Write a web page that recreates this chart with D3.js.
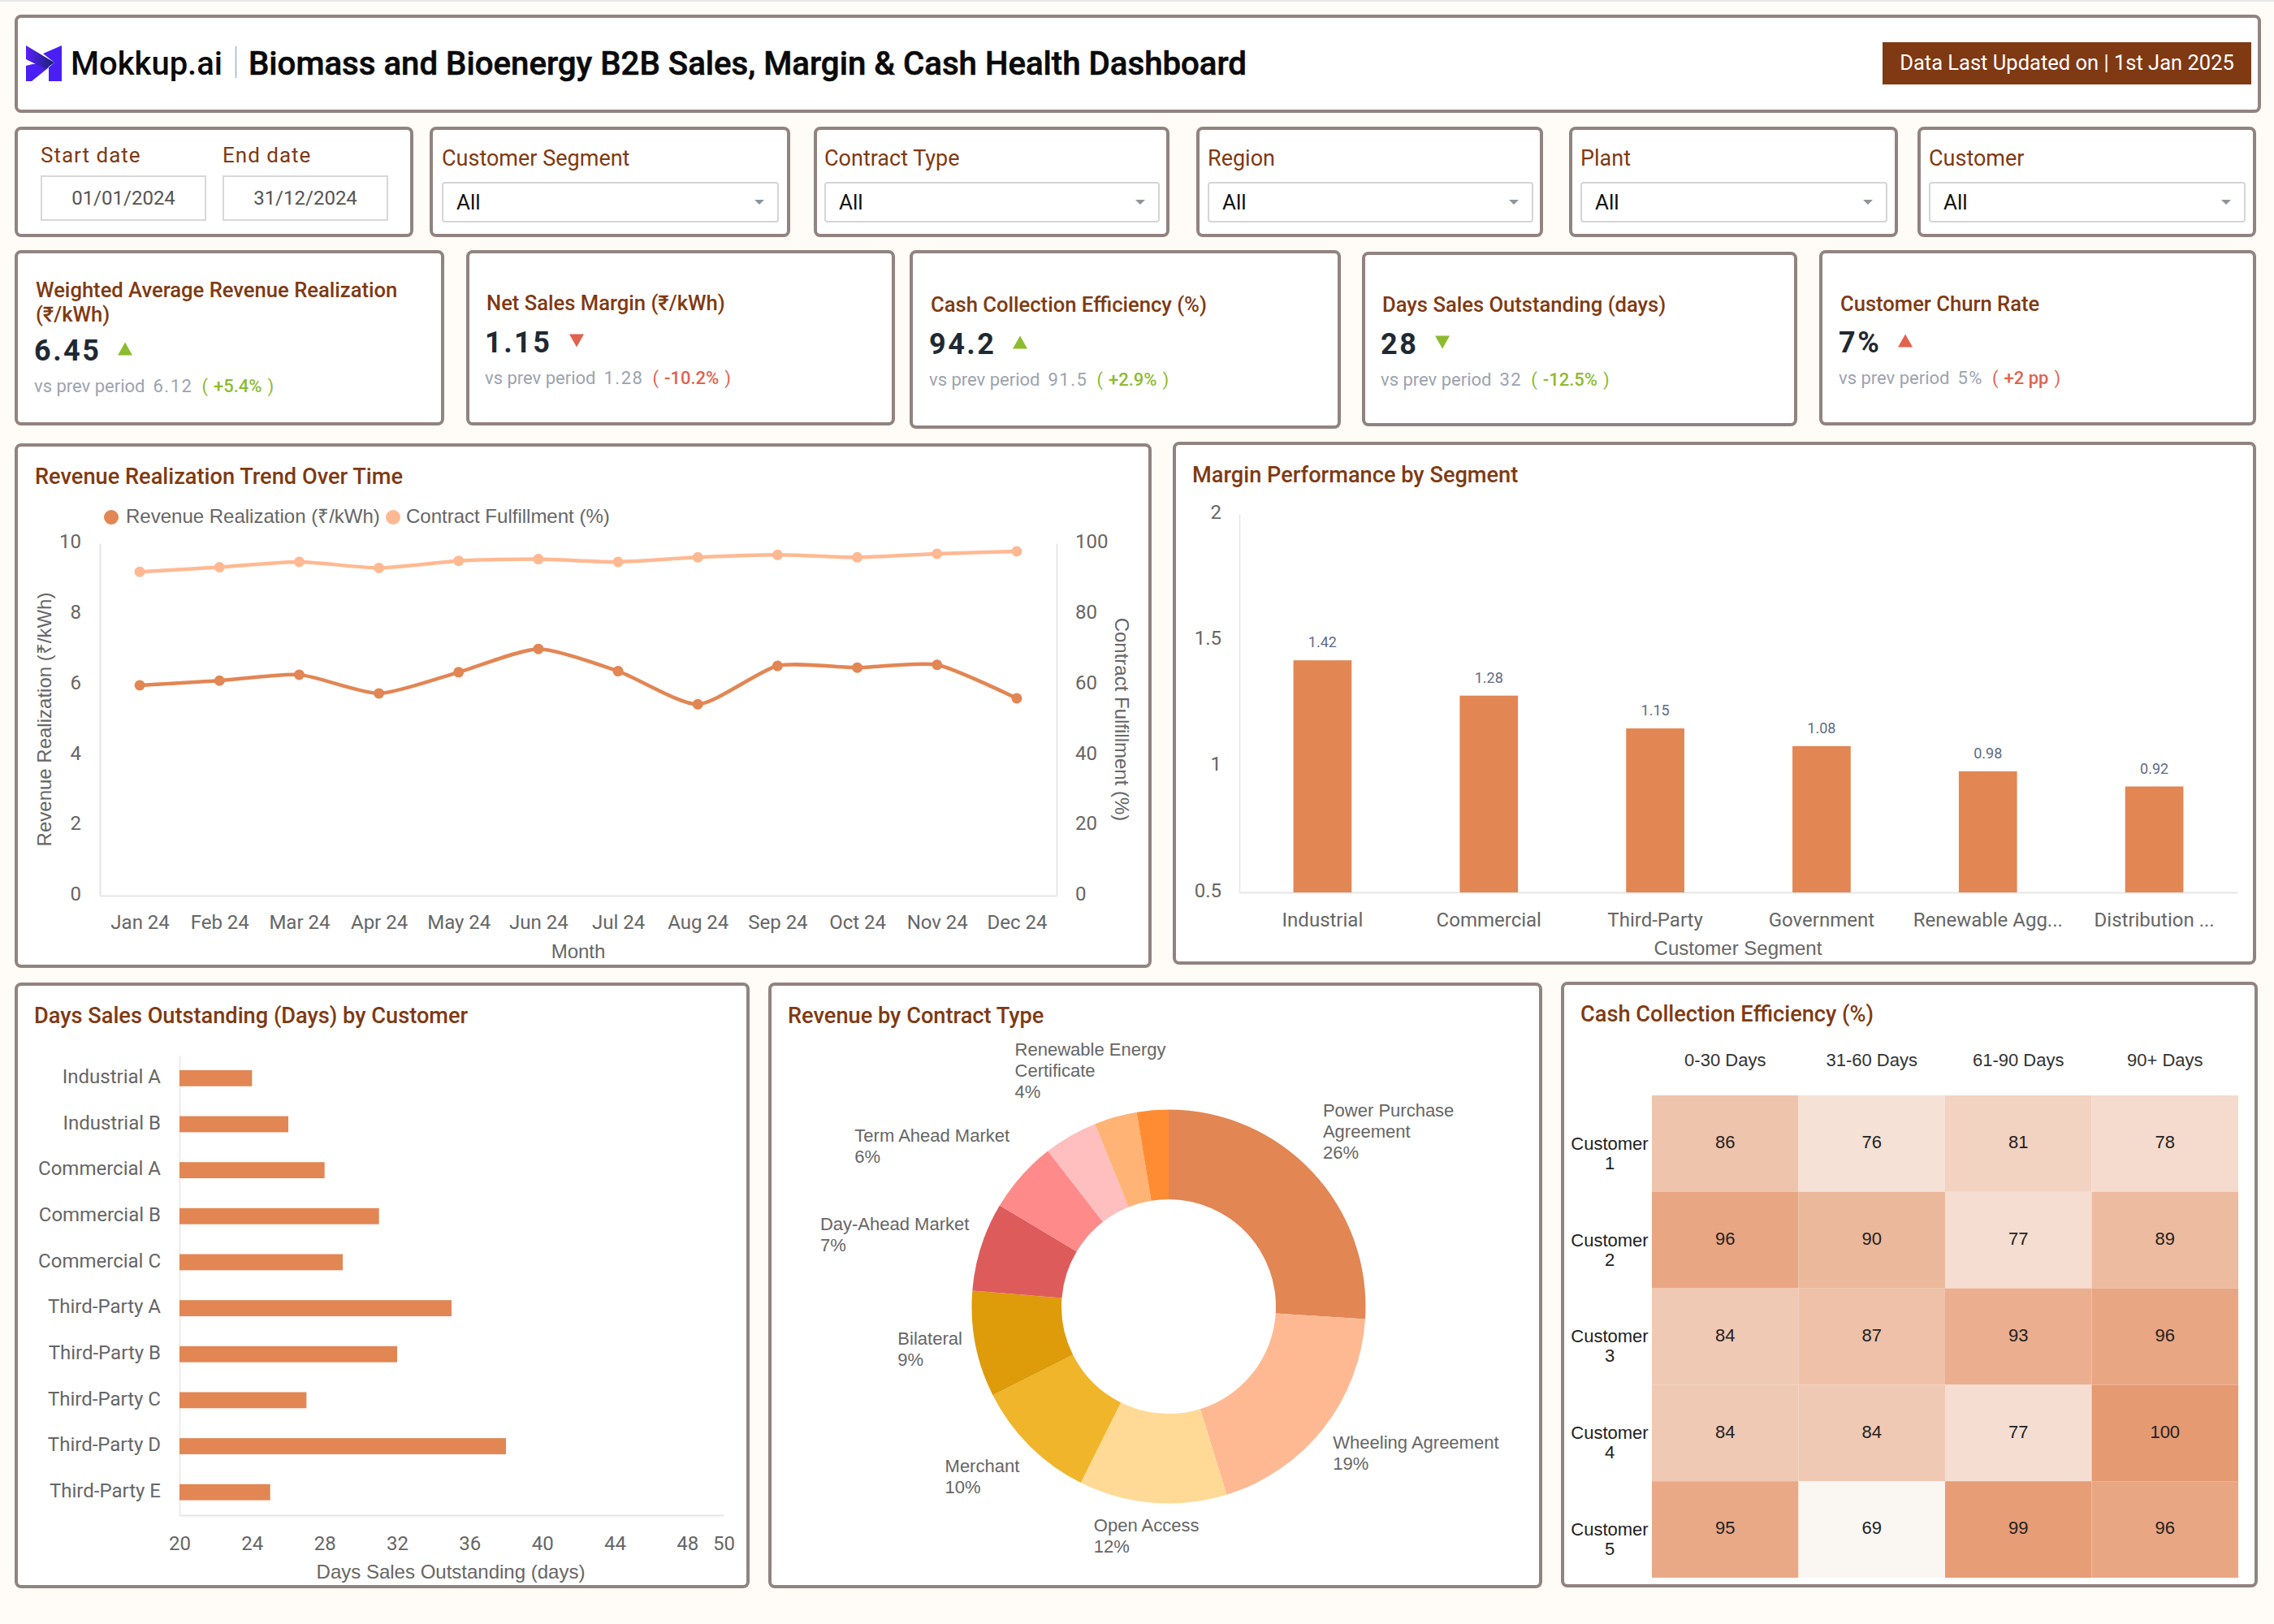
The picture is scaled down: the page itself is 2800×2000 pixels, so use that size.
<!DOCTYPE html>
<html>
<head>
<meta charset="utf-8">
<title>Biomass and Bioenergy B2B Sales, Margin & Cash Health Dashboard</title>
<script src="https://d3js.org/d3.v7.min.js"></script>
<style>
  html, body { margin: 0; padding: 0; background: #fffcf7; }
  svg { display: block; }
  text { font-family: Roboto, "Noto Sans", sans-serif; }
  .arial { font-family: "Liberation Sans", Arial, sans-serif; }
</style>
</head>
<body>
<div id="my_dataviz"></div>

<script>
// ---------- data ----------
var months = ["Jan 24","Feb 24","Mar 24","Apr 24","May 24","Jun 24","Jul 24","Aug 24","Sep 24","Oct 24","Nov 24","Dec 24"];
var revenueRealization = [5.97,6.1,6.27,5.74,6.34,7.0,6.37,5.43,6.52,6.47,6.55,5.6];
var contractFulfillment = [91.9,93.2,94.7,93,95,95.5,94.7,96,96.7,96,97,97.7];

var segments = ["Industrial","Commercial","Third-Party","Government","Renewable Agg...","Distribution ..."];
var segmentMargin = [1.42,1.28,1.15,1.08,0.98,0.92];

var customers = ["Industrial A","Industrial B","Commercial A","Commercial B","Commercial C","Third-Party A","Third-Party B","Third-Party C","Third-Party D","Third-Party E"];
var customerDso = [24,26,28,31,29,35,32,27,38,25];
var dsoTicks = [20,24,28,32,36,40,44,48,50];

// two thin slices have no label in the picture, their shares are estimates
var contractNames = [["Power Purchase","Agreement"],["Wheeling Agreement"],["Open Access"],["Merchant"],["Bilateral"],["Day-Ahead Market"],["Term Ahead Market"],[],["Renewable Energy","Certificate"],[]];
var contractShare = [26,19.2,12.1,10.2,8.7,7.3,5.9,4.4,3.5,2.6];
var contractColors = ["#e28654","#ffb992","#ffda96","#f0b52b","#de9b0a","#de5b5b","#ff8a8a","#ffbfbf","#ffb375","#ff8c33"];

var agingBuckets = ["0-30 Days","31-60 Days","61-90 Days","90+ Days"];
var agingCustomers = ["1","2","3","4","5"];
var agingValues = [
  [86,76,81,78],
  [96,90,77,89],
  [84,87,93,96],
  [84,84,77,100],
  [95,69,99,96]
];

var kpiTitles = [["Weighted Average Revenue Realization","(₹/kWh)"],["Net Sales Margin (₹/kWh)"],["Cash Collection Efficiency (%)"],["Days Sales Outstanding (days)"],["Customer Churn Rate"]];
var kpiValues = ["6.45","1.15","94.2","28","7%"];
var kpiPrev = ["6.12","1.28","91.5","32","5%"];
var kpiDelta = ["+5.4%","-10.2%","+2.9%","-12.5%","+2 pp"];
var kpiUp = [true,false,true,false,true];
var kpiGood = [true,false,true,true,false];

var filterNames = ["Customer Segment","Contract Type","Region","Plant","Customer"];

// ---------- colours ----------
var brown = "#7f3a12", borderCol = "#918380", barCol = "#e28654";
var axisText = "#666666", gridLine = "#e6e6e6";
var goodCol = "#8dbb2f", badCol = "#e0634f";

var svg = d3.select("#my_dataviz").append("svg")
    .attr("width", 2800)
    .attr("height", 2000);

svg.append("rect").attr("width", 2800).attr("height", 2000).attr("fill", "#fffcf7");
svg.append("rect").attr("width", 2800).attr("height", 2).attr("fill", "#e8e8e8");

// panel with the grey-brown border
function panel(x0, y0, x1, y1) {
  svg.append("rect")
    .attr("x", x0 + 2).attr("y", y0 + 2)
    .attr("width", x1 - x0 - 4).attr("height", y1 - y0 - 4)
    .attr("rx", 6)
    .attr("fill", "#fff")
    .attr("stroke", borderCol)
    .attr("stroke-width", 4);
}

function label(x, y, s, size, col, weight, anchor, cls) {
  return svg.append("text")
    .attr("class", cls || null)
    .attr("x", x).attr("y", y).attr("dy", "0.35em")
    .attr("font-size", size)
    .attr("font-weight", weight || 400)
    .attr("fill", col)
    .attr("text-anchor", anchor || "start")
    .text(s);
}

// ---------- header ----------
panel(18, 18, 2784, 139);

var grad = svg.append("defs").append("linearGradient").attr("id", "logoGrad");
grad.append("stop").attr("offset", "0%").attr("stop-color", "#5a1ffb");
grad.append("stop").attr("offset", "100%").attr("stop-color", "#16246e");

var logo = svg.append("g").attr("transform", "translate(32,56)");
logo.append("polygon").attr("points", "44,0 44,44 28,44 28,27 35,21 21,10").attr("fill", "#4a1ff5");
logo.append("polygon").attr("points", "0,25 0,44 7,44 28,27 24,22 8,23").attr("fill", "#4a1ff5");
logo.append("polygon").attr("points", "0,0 35,21 24,29 0,17").attr("fill", "url(#logoGrad)");

label(87, 78, "Mokkup.ai", 40, "#0a0a0a", 500);
svg.append("line").attr("x1", 290.5).attr("x2", 290.5).attr("y1", 57).attr("y2", 96).attr("stroke", "#9db4c0").attr("stroke-width", 1.5);
label(306, 78, "Biomass and Bioenergy B2B Sales, Margin & Cash Health Dashboard", 40.2, "#0a0a0a", 500)
  .attr("stroke", "#0a0a0a").attr("stroke-width", 0.6);

svg.append("rect").attr("x", 2318).attr("y", 52).attr("width", 454).attr("height", 52).attr("fill", "#7f3913");
label(2545, 77, "Data Last Updated on | 1st Jan 2025", 25.5, "#fff", 400, "middle");

// ---------- date + dropdown filters ----------
panel(18, 156, 509, 292);
label(50, 191, "Start date", 26, brown).attr("letter-spacing", 1);
label(274, 191, "End date", 26, brown).attr("letter-spacing", 1);
[[50, "01/01/2024"], [274, "31/12/2024"]].forEach(function(d) {
  svg.append("rect").attr("x", d[0] + 1).attr("y", 217).attr("width", 202).attr("height", 54)
    .attr("fill", "#fff").attr("stroke", "#d8d8d8").attr("stroke-width", 2);
  label(d[0] + 102, 244, d[1], 24, "#555", 400, "middle");
});

var filterPanels = [[529,973],[1002,1440],[1473,1900],[1932,2337],[2361,2778]];
var filterBoxes = [[544,959],[1015,1428],[1487,1888],[1946,2324],[2375,2765]];
filterNames.forEach(function(name, i) {
  var b = filterBoxes[i];
  panel(filterPanels[i][0], 156, filterPanels[i][1], 292);
  label(b[0], 195, name, 27, brown);
  svg.append("rect").attr("x", b[0] + 1).attr("y", 225).attr("width", b[1] - b[0] - 2).attr("height", 48).attr("rx", 3)
    .attr("fill", "#fff").attr("stroke", "#d5d5d5").attr("stroke-width", 2);
  label(b[0] + 18, 249, "All", 26, "#111");
  var ax = b[1] - 24;
  svg.append("path").attr("d", "M" + (ax - 6) + ",246 L" + (ax + 6) + ",246 L" + ax + ",252 Z").attr("fill", "#8e949c");
});

// ---------- KPI cards ----------
var kpiPanels = [[18,308,547,524],[574,308,1102,524],[1120,308,1651,528],[1677,310,2213,525],[2240,308,2778,524]];
var kpiX = [42,597,1144,1700,2264];
var kpiTitleX = [44,599,1146,1702,2266];
var kpiTitleY = [357,373,375,375,374];
var kpiValueY = [431,421,423,423,421];
var kpiSubY = [475,465,467,467,465];
var triX = [154,710,1256,1776,2346];

kpiTitles.forEach(function(t, i) {
  var p = kpiPanels[i];
  panel(p[0], p[1], p[2], p[3]);
  t.forEach(function(line, j) {
    label(kpiTitleX[i], kpiTitleY[i] + j * 30.5, line, 25.6, brown, 500);
  });
  label(kpiX[i], kpiValueY[i], kpiValues[i], 36, "#1f2933", 700).attr("letter-spacing", 2.5);

  var col = kpiGood[i] ? goodCol : badCol;
  var tx = triX[i], ty = kpiValueY[i] - 1.5;
  var tri = kpiUp[i] ? [[tx - 9, ty + 8], [tx + 9, ty + 8], [tx, ty - 8]] : [[tx - 9, ty - 8], [tx + 9, ty - 8], [tx, ty + 8]];
  svg.append("polygon").attr("points", tri.join(" ")).attr("fill", col);

  var sub = label(kpiX[i], kpiSubY[i], "", 22, "#9ca3af");
  sub.append("tspan").text("vs prev period");
  sub.append("tspan").attr("dx", 10).attr("letter-spacing", 1.5).text(kpiPrev[i]);
  sub.append("tspan").attr("dx", 11).attr("fill", col).text("(");
  sub.append("tspan").attr("dx", 7).attr("fill", col).attr("font-weight", 500).text(kpiDelta[i]);
  sub.append("tspan").attr("dx", 7).attr("fill", col).text(")");
});

// ---------- revenue line chart ----------
panel(18, 546, 1418, 1192);
label(43, 586, "Revenue Realization Trend Over Time", 27.2, brown, 500);

var lineL = 123, lineR = 1301, lineT = 669, lineB = 1103;
var xMonth = d3.scalePoint().domain(months).range([lineL, lineR]).padding(0.5);
var yRev = d3.scaleLinear().domain([0, 10]).range([lineB, lineT]);
var yPct = d3.scaleLinear().domain([0, 100]).range([lineB, lineT]);

function tidyAxis(g) {
  g.selectAll(".tick line").remove();
  g.selectAll("text").attr("fill", axisText).attr("font-size", 24).attr("font-family", "Roboto");
  g.select(".domain").attr("stroke", gridLine).attr("stroke-width", 2);
}

svg.append("g").attr("transform", "translate(" + lineL + ",0)")
  .call(d3.axisLeft(yRev).tickValues([0,2,4,6,8,10]).tickSize(0).tickSizeOuter(0).tickPadding(23))
  .call(tidyAxis)
  .call(function(g) { g.selectAll("text").attr("dy", "0.24em"); });
svg.append("g").attr("transform", "translate(" + lineR + ",0)")
  .call(d3.axisRight(yPct).tickValues([0,20,40,60,80,100]).tickSize(0).tickSizeOuter(0).tickPadding(23))
  .call(tidyAxis)
  .call(function(g) { g.selectAll("text").attr("dy", "0.24em"); });
svg.append("g").attr("transform", "translate(0," + lineB + ")")
  .call(d3.axisBottom(xMonth).tickSize(0).tickSizeOuter(0).tickPadding(24))
  .call(tidyAxis);

var lineRev = d3.line().x(function(d, i) { return xMonth(months[i]); }).y(function(d) { return yRev(d); }).curve(d3.curveCardinal.tension(0.35));
var linePct = d3.line().x(function(d, i) { return xMonth(months[i]); }).y(function(d) { return yPct(d); }).curve(d3.curveCardinal.tension(0.35));

svg.append("path").datum(contractFulfillment).attr("d", linePct).attr("fill", "none").attr("stroke", "#ffb992").attr("stroke-width", 4.5);
svg.append("path").datum(revenueRealization).attr("d", lineRev).attr("fill", "none").attr("stroke", barCol).attr("stroke-width", 4.5);

svg.selectAll(".ptPct").data(contractFulfillment).enter().append("circle")
  .attr("cx", function(d, i) { return xMonth(months[i]); })
  .attr("cy", function(d) { return yPct(d); })
  .attr("r", 6.5).attr("fill", "#ffb992");
svg.selectAll(".ptRev").data(revenueRealization).enter().append("circle")
  .attr("cx", function(d, i) { return xMonth(months[i]); })
  .attr("cy", function(d) { return yRev(d); })
  .attr("r", 6.5).attr("fill", barCol);

svg.append("circle").attr("cx", 137).attr("cy", 637).attr("r", 9).attr("fill", barCol);
label(155, 636, "Revenue Realization (₹/kWh)", 24, axisText, 400, "start", "arial");
svg.append("circle").attr("cx", 484).attr("cy", 637).attr("r", 9).attr("fill", "#ffb992");
label(500, 636, "Contract Fulfillment (%)", 24, axisText, 400, "start", "arial");

label(712, 1172, "Month", 24, axisText, 400, "middle", "arial");
label(0, 0, "Revenue Realization (₹/kWh)", 24, axisText, 400, "middle", "arial")
  .attr("transform", "translate(55,886) rotate(-90)");
label(0, 0, "Contract Fulfillment (%)", 24, axisText, 400, "middle", "arial")
  .attr("transform", "translate(1381,886) rotate(90)");

// ---------- margin bars ----------
panel(1444, 544, 2778, 1188);
label(1468, 584, "Margin Performance by Segment", 27.2, brown, 500);

var barL = 1526, barR = 2755, barT = 633, barB = 1099;
var xSeg = d3.scaleBand().domain(segments).range([barL, barR]).paddingInner(0.65).paddingOuter(0.325);
var ySeg = d3.scaleLinear().domain([0.5, 2]).range([barB, barT]);

svg.append("g").attr("transform", "translate(" + barL + ",0)")
  .call(d3.axisLeft(ySeg).tickValues([0.5,1,1.5,2]).tickFormat(d3.format("~g")).tickSize(0).tickSizeOuter(0).tickPadding(22))
  .call(tidyAxis)
  .call(function(g) { g.selectAll("text").attr("dy", "0.22em"); g.select(".domain").attr("stroke-width", 1.5); });
svg.append("g").attr("transform", "translate(0," + barB + ")")
  .call(d3.axisBottom(xSeg).tickSize(0).tickSizeOuter(0).tickPadding(25))
  .call(tidyAxis);

svg.selectAll(".segBar").data(segmentMargin).enter().append("rect")
  .attr("x", function(d, i) { return xSeg(segments[i]); })
  .attr("y", function(d) { return ySeg(d); })
  .attr("width", xSeg.bandwidth())
  .attr("height", function(d) { return barB - ySeg(d); })
  .attr("fill", barCol);

svg.selectAll(".segVal").data(segmentMargin).enter().append("text")
  .attr("x", function(d, i) { return xSeg(segments[i]) + xSeg.bandwidth() / 2; })
  .attr("y", function(d) { return ySeg(d) - 22; })
  .attr("dy", "0.35em")
  .attr("text-anchor", "middle")
  .attr("font-size", 18)
  .attr("fill", "#5f6b85")
  .text(function(d) { return d3.format(".2f")(d); });

label(2140, 1168, "Customer Segment", 24, axisText, 400, "middle", "arial");

// ---------- DSO horizontal bars ----------
panel(18, 1210, 923, 1956);
label(42, 1250, "Days Sales Outstanding (Days) by Customer", 27.2, brown, 500);

var dsoL = 221, dsoR = 891, dsoT = 1299.5, dsoB = 1866;
var xDso = d3.scaleLinear().domain([20, 50]).range([dsoL, dsoR]);
var yCust = d3.scaleBand().domain(customers).range([dsoT, dsoB]).paddingInner(0.65).paddingOuter(0.325);

svg.append("g").attr("transform", "translate(0," + dsoB + ")")
  .call(d3.axisBottom(xDso).tickValues(dsoTicks).tickSize(0).tickSizeOuter(0).tickPadding(26))
  .call(tidyAxis);
svg.append("g").attr("transform", "translate(" + dsoL + ",0)")
  .call(d3.axisLeft(yCust).tickSize(0).tickSizeOuter(0).tickPadding(23))
  .call(tidyAxis)
  .call(function(g) { g.selectAll("text").attr("dy", "0.26em"); g.select(".domain").attr("stroke-width", 1.5); });

svg.selectAll(".dsoBar").data(customerDso).enter().append("rect")
  .attr("x", dsoL)
  .attr("y", function(d, i) { return yCust(customers[i]); })
  .attr("width", function(d) { return xDso(d) - dsoL; })
  .attr("height", yCust.bandwidth())
  .attr("fill", barCol);

label(555, 1936, "Days Sales Outstanding (days)", 24, axisText, 400, "middle", "arial");

// ---------- contract donut ----------
panel(946, 1210, 1899, 1956);
label(970, 1250, "Revenue by Contract Type", 27.2, brown, 500);

var cx = 1439, cy = 1609, outerR = 242.5, innerR = 132, labelR = 259;
var pie = d3.pie().sort(null);
var arc = d3.arc().innerRadius(innerR).outerRadius(outerR);
var total = d3.sum(contractShare);
var donut = svg.append("g").attr("transform", "translate(" + cx + "," + cy + ")");

donut.selectAll("path").data(pie(contractShare)).enter().append("path")
  .attr("d", arc)
  .attr("fill", function(d, i) { return contractColors[i]; });

// label box hangs off the point just outside the slice, corner depends on the angle
var nudgeX = [1,-1,-3,-1,0,1,-2,0,-2,0];
var nudgeY = [0,-4,-2,0,-5,2,0,0,-2,0];
pie(contractShare).forEach(function(d, i) {
  if (!contractNames[i].length) return;
  var mid = (d.startAngle + d.endAngle) / 2;
  var s = Math.sin(mid), c = Math.cos(mid);
  var lines = contractNames[i].concat([Math.round(d.value / total * 100) + "%"]);
  var t = svg.append("text").attr("class", "arial").attr("font-size", 22).attr("fill", "#666");
  lines.forEach(function(line) {
    t.append("tspan").text(line);
  });
  var spans = t.selectAll("tspan");
  var w = d3.max(spans.nodes(), function(n) { return n.getComputedTextLength(); });
  var h = lines.length * 26;
  var fx = 0.5 - 0.5 * Math.sign(s) * Math.pow(Math.min(1, Math.abs(s) / 0.7), 1.4);
  var fy = Math.max(0, Math.min(1, 0.5 + c * 0.75));
  var left = cx + labelR * s - fx * w + nudgeX[i];
  var top = cy - labelR * c - fy * h + nudgeY[i];
  spans.attr("x", left).attr("y", function(n, j) { return top + 13 + j * 26; }).attr("dy", "0.35em");
});

// ---------- aging heatmap ----------
panel(1922, 1209, 2780, 1955);
label(1946, 1248, "Cash Collection Efficiency (%)", 27.2, brown, 500);

var heatL = 2034, heatR = 2756, heatT = 1349, heatB = 1943;
var xBucket = d3.scaleBand().domain(agingBuckets).range([heatL, heatR]);
var yRow = d3.scaleBand().domain(agingCustomers).range([heatT, heatB]);
var heatColor = d3.scaleLinear().domain([69, 100]).range(["#faf6f2", "#e69a72"]);

agingValues.forEach(function(row, r) {
  row.forEach(function(v, c) {
    svg.append("rect")
      .attr("x", xBucket(agingBuckets[c])).attr("y", yRow(agingCustomers[r]))
      .attr("width", xBucket.bandwidth()).attr("height", yRow.bandwidth())
      .attr("fill", heatColor(v));
    label(xBucket(agingBuckets[c]) + xBucket.bandwidth() / 2, yRow(agingCustomers[r]) + yRow.bandwidth() / 2 - 2, v, 22, "#222", 400, "middle", "arial");
  });
  label(1982, yRow(agingCustomers[r]) + 59, "Customer", 22, "#222", 400, "middle", "arial");
  label(1982, yRow(agingCustomers[r]) + 83, agingCustomers[r], 22, "#222", 400, "middle", "arial");
});
agingBuckets.forEach(function(b) {
  label(xBucket(b) + xBucket.bandwidth() / 2, 1305, b, 22, "#333", 400, "middle", "arial");
});
</script>
</body>
</html>
